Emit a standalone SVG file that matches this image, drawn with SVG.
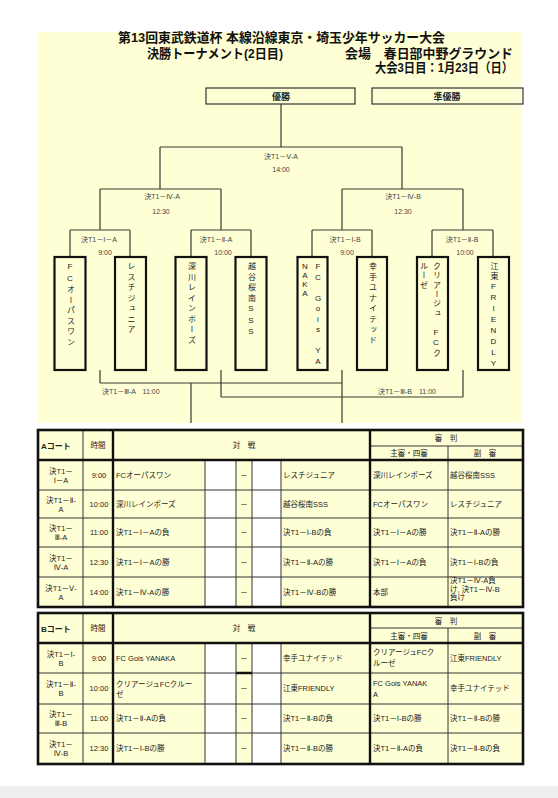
<svg xmlns="http://www.w3.org/2000/svg" width="558" height="798" viewBox="0 0 558 798">
<defs>
<style>
.bg{fill:#FFFFD6}
.ln{stroke:#3a3a30;stroke-width:1.2;fill:none}
.tb{fill:none;stroke:#111;stroke-width:2.2}
.t{font-family:"Liberation Sans","DejaVu Sans","Noto Sans CJK JP",sans-serif;fill:#222}
.ti{font-size:13px;font-weight:bold;fill:#111}
.bl{font-size:7px;fill:#444;text-anchor:middle}
.v{font-size:8px;writing-mode:vertical-rl;text-orientation:upright;letter-spacing:2.5px;fill:#222}
.c{font-size:7.5px}
.m{text-anchor:middle}
.h{font-size:8px;font-weight:bold}
.g{stroke:#333;stroke-width:1;fill:none}
.k{stroke:#111;stroke-width:2.4;fill:none}
.o{fill:none;stroke:#111;stroke-width:2.6}
.w{fill:#fff}
</style>
</defs>
<rect width="558" height="798" fill="#fff"/>
<rect x="38" y="32" width="484" height="391" class="bg"/>
<rect x="0" y="786" width="558" height="12" fill="#eeeeee"/>

<g id="title" class="t ti">
<text x="118" y="42" textLength="327" lengthAdjust="spacingAndGlyphs">第13回東武鉄道杯 本線沿線東京・埼玉少年サッカー大会</text>
<text x="147" y="58" textLength="136" lengthAdjust="spacingAndGlyphs">決勝トーナメント(2日目)</text>
<text x="345" y="58" textLength="168" lengthAdjust="spacingAndGlyphs">会場　春日部中野グラウンド</text>
<text x="375" y="72" textLength="138" lengthAdjust="spacingAndGlyphs">大会3日目：1月23日（日）</text>
</g>

<g id="winner">
<rect x="206" y="88" width="149" height="16" fill="none" stroke="#333" stroke-width="1.2"/>
<text x="281" y="99.5" class="t m" font-size="9" font-weight="bold">優勝</text>
</g>
<g id="runnerup">
<rect x="372" y="88" width="151" height="16" fill="none" stroke="#333" stroke-width="1.2"/>
<text x="447" y="99.5" class="t m" font-size="9" font-weight="bold">準優勝</text>
</g>

<g id="connectors" class="ln">
<path d="M281 104V147M160 147H402M160 147V189M402 147V189"/>
<path d="M100 189H221M342 189H463M100 189V230M221 189V230M342 189V230M463 189V230"/>
<path d="M70 230H130M191 230H251M312 230H372M432 230H493"/>
<path d="M70 230V257M130 230V257M191 230V257M251 230V257M312 230V257M372 230V257M432 230V257M493 230V257"/>
<path d="M100 370V383M100 383H342M342 370V423M191 383V423"/>
<path d="M221 370V397M463 370V397M221 397H463"/>
</g>

<g id="match-labels" class="t">
<text x="281" y="158.5" class="bl">決T1－Ⅴ-A</text>
<text x="281" y="171.5" class="bl">14:00</text>
<text x="162" y="199" class="bl">決T1－Ⅳ-A</text>
<text x="161" y="213.5" class="bl">12:30</text>
<text x="403" y="199" class="bl">決T1－Ⅳ-B</text>
<text x="403" y="213.5" class="bl">12:30</text>
<text x="99" y="241.5" class="bl">決T1－Ⅰ－A</text>
<text x="105" y="254.5" class="bl">9:00</text>
<text x="216" y="241.5" class="bl">決T1－Ⅱ-A</text>
<text x="223" y="254.5" class="bl">10:00</text>
<text x="345" y="241.5" class="bl">決T1－Ⅰ-B</text>
<text x="347" y="254.5" class="bl">9:00</text>
<text x="462" y="241.5" class="bl">決T1－Ⅱ-B</text>
<text x="465" y="254.5" class="bl">10:00</text>
<text x="102" y="393.5" font-size="7" fill="#444">決T1－Ⅲ-A　11:00</text>
<text x="378" y="393.5" font-size="7" fill="#444">決T1－Ⅲ-B　11:00</text>
</g>

<g id="team1"><rect x="54.5" y="257" width="31" height="113" class="tb"/><text x="70" y="262" class="t v">FCオーパスワン</text></g>
<g id="team2"><rect x="115" y="257" width="31" height="113" class="tb"/><text x="130.5" y="262" class="t v">レスチジュニア</text></g>
<g id="team3"><rect x="175.5" y="257" width="31" height="113" class="tb"/><text x="191" y="262" class="t v">深川レインボーズ</text></g>
<g id="team4"><rect x="235.5" y="257" width="31" height="113" class="tb"/><text x="251" y="262" class="t v">越谷桜南SSS</text></g>
<g id="team5"><rect x="297.5" y="257" width="30" height="113" class="tb"/><text x="318" y="262" class="t v" style="letter-spacing:1.5px">FC Gois YA</text><text x="305" y="262" class="t v" style="letter-spacing:0px">NAKA</text></g>
<g id="team6"><rect x="357" y="257" width="30" height="113" class="tb"/><text x="372" y="262" class="t v">幸手ユナイテッド</text></g>
<g id="team7"><rect x="417" y="257" width="31" height="113" class="tb"/><text x="436" y="262" class="t v" style="letter-spacing:1.3px">クリアージュ FCク</text><text x="423" y="262" class="t v" style="letter-spacing:1.3px">ルーゼ</text></g>
<g id="team8"><rect x="478" y="257" width="31" height="113" class="tb"/><text x="493.5" y="262" class="t v" style="letter-spacing:2px">江東FRIENDLY</text></g>

<g id="tableA">
<rect x="38" y="430" width="485" height="177" class="bg"/>
<rect x="205" y="460" width="31" height="147" class="w"/>
<rect x="252" y="460" width="29" height="147" class="w"/>
<path class="g" d="M38 490H523M38 518H523M38 547H523M38 577H523M370 446H523M83 430V607M205 460V607M236 460V607M252 460V607M281 460V607M448 446V607"/>
<path class="k" d="M38 460H523M113 430V607M370 430V607"/>
<rect x="38" y="430" width="485" height="177" class="o"/>
<g class="t c">
<text x="41" y="448.5" class="h" font-size="8.5">Aコート</text>
<text x="98" y="448" class="m">時間</text>
<text x="244" y="448" class="m">対　戦</text>
<text x="446" y="441" class="m">審　判</text>
<text x="409" y="456" class="m">主審・四審</text>
<text x="485" y="456" class="m">副　審</text>

<text x="61" y="474" class="m">決T1－</text><text x="61" y="483" class="m">Ⅰ－A</text>
<text x="99" y="477.5" class="m">9:00</text>
<text x="116" y="477.5">FCオーパスワン</text>
<text x="244" y="477.5" class="m">－</text>
<text x="283" y="477.5">レスチジュニア</text>
<text x="373" y="477.5">深川レインボーズ</text>
<text x="450" y="477.5">越谷桜南SSS</text>

<text x="61" y="502.5" class="m">決T1－Ⅱ-</text><text x="61" y="511.5" class="m">A</text>
<text x="99" y="506.5" class="m">10:00</text>
<text x="116" y="506.5">深川レインボーズ</text>
<text x="244" y="506.5" class="m">－</text>
<text x="283" y="506.5">越谷桜南SSS</text>
<text x="373" y="506.5">FCオーパスワン</text>
<text x="450" y="506.5">レスチジュニア</text>

<text x="61" y="531" class="m">決T1－</text><text x="61" y="540" class="m">Ⅲ-A</text>
<text x="99" y="535" class="m">11:00</text>
<text x="116" y="535">決T1－Ⅰ－Aの負</text>
<text x="244" y="535" class="m">－</text>
<text x="283" y="535">決T1－Ⅰ-Bの負</text>
<text x="373" y="535">決T1－Ⅰ－Aの勝</text>
<text x="450" y="535">決T1－Ⅱ-Aの勝</text>

<text x="61" y="560.5" class="m">決T1－</text><text x="61" y="569.5" class="m">Ⅳ-A</text>
<text x="99" y="564.5" class="m">12:30</text>
<text x="116" y="564.5">決T1－Ⅰ－Aの勝</text>
<text x="244" y="564.5" class="m">－</text>
<text x="283" y="564.5">決T1－Ⅱ-Aの勝</text>
<text x="373" y="564.5">決T1－Ⅰ－Aの負</text>
<text x="450" y="564.5">決T1－Ⅰ-Bの負</text>

<text x="61" y="590.5" class="m">決T1－Ⅴ-</text><text x="61" y="599.5" class="m">A</text>
<text x="99" y="594.5" class="m">14:00</text>
<text x="116" y="594.5">決T1－Ⅳ-Aの勝</text>
<text x="244" y="594.5" class="m">－</text>
<text x="283" y="594.5">決T1－Ⅳ-Bの勝</text>
<text x="373" y="594.5">本部</text>
<text x="450" y="583">決T1－Ⅳ-A負</text>
<text x="450" y="591.5">け, 決T1－Ⅳ-B</text>
<text x="450" y="600">負け</text>
</g>
</g>

<g id="tableB">
<rect x="38" y="613" width="485" height="151" class="bg"/>
<rect x="205" y="643" width="31" height="121" class="w"/>
<rect x="252" y="643" width="29" height="121" class="w"/>
<path class="g" d="M38 673H523M38 704H523M38 733H523M370 628H523M83 613V764M205 643V764M236 643V764M252 643V764M281 643V764M448 628V764"/>
<path class="k" d="M38 643H523M113 613V764M370 613V764M236 673H252"/>
<rect x="38" y="613" width="485" height="151" class="o"/>
<g class="t c">
<text x="41" y="631.5" class="h" font-size="8.5">Bコート</text>
<text x="98" y="631" class="m">時間</text>
<text x="244" y="631" class="m">対　戦</text>
<text x="446" y="623.5" class="m">審　判</text>
<text x="409" y="638.5" class="m">主審・四審</text>
<text x="485" y="638.5" class="m">副　審</text>

<text x="61" y="656.5" class="m">決T1－Ⅰ-</text><text x="61" y="665.5" class="m">B</text>
<text x="99" y="660.5" class="m">9:00</text>
<text x="116" y="660.5">FC Gois YANAKA</text>
<text x="244" y="660.5" class="m">－</text>
<text x="283" y="660.5">幸手ユナイテッド</text>
<text x="373" y="655">クリアージュFCク</text>
<text x="373" y="665.5">ルーゼ</text>
<text x="450" y="660.5">江東FRIENDLY</text>

<text x="61" y="687" class="m">決T1－Ⅱ-</text><text x="61" y="696" class="m">B</text>
<text x="99" y="691" class="m">10:00</text>
<text x="116" y="687">クリアージュFCクルー</text>
<text x="116" y="697">ゼ</text>
<text x="244" y="691" class="m">－</text>
<text x="283" y="691">江東FRIENDLY</text>
<text x="373" y="686">FC Gois YANAK</text>
<text x="373" y="696.5">A</text>
<text x="450" y="691">幸手ユナイテッド</text>

<text x="61" y="717" class="m">決T1－</text><text x="61" y="726" class="m">Ⅲ-B</text>
<text x="99" y="721" class="m">11:00</text>
<text x="116" y="721">決T1－Ⅱ-Aの負</text>
<text x="244" y="721" class="m">－</text>
<text x="283" y="721">決T1－Ⅱ-Bの負</text>
<text x="373" y="721">決T1－Ⅰ-Bの勝</text>
<text x="450" y="721">決T1－Ⅱ-Bの勝</text>

<text x="61" y="747" class="m">決T1－</text><text x="61" y="756" class="m">Ⅳ-B</text>
<text x="99" y="751" class="m">12:30</text>
<text x="116" y="751">決T1－Ⅰ-Bの勝</text>
<text x="244" y="751" class="m">－</text>
<text x="283" y="751">決T1－Ⅱ-Bの勝</text>
<text x="373" y="751">決T1－Ⅱ-Aの負</text>
<text x="450" y="751">決T1－Ⅱ-Bの負</text>
</g>
</g>
</svg>
